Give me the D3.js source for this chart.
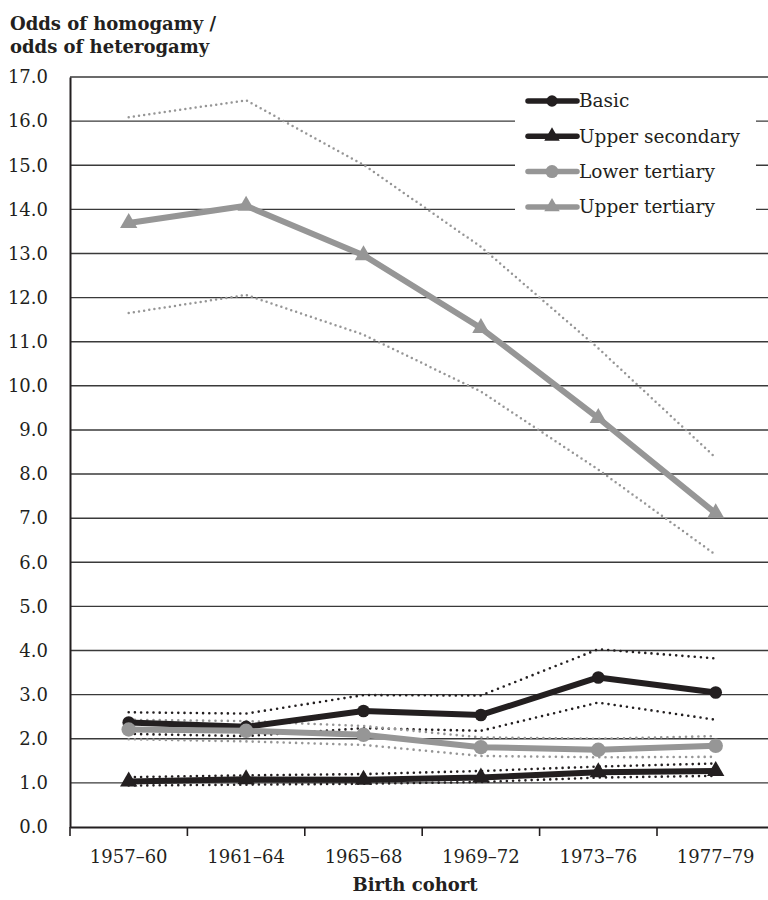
<!DOCTYPE html>
<html>
<head>
<meta charset="utf-8">
<script src="https://cdn.jsdelivr.net/npm/d3@7"></script>
<style>
  body { margin: 0; background: #fff; }
  svg { display: block; }
  text { font-family: "DejaVu Serif", serif; fill: #231f20; }
</style>
</head>
<body>
<svg id="chart" width="768" height="900"></svg>
<script>
  const cohorts = ["1957–60", "1961–64", "1965–68", "1969–72", "1973–76", "1977–79"];
  const yTicks  = d3.range(0, 17.5, 1);

  // point estimates and confidence bounds, per education level
  const basic        = [2.37, 2.27, 2.63, 2.54, 3.39, 3.05];
  const basicHi      = [2.60, 2.57, 2.99, 2.98, 4.03, 3.82];
  const basicLo      = [2.11, 2.06, 2.24, 2.18, 2.82, 2.43];
  const upperSec     = [1.03, 1.08, 1.07, 1.12, 1.24, 1.27];
  const upperSecHi   = [1.13, 1.17, 1.20, 1.27, 1.37, 1.44];
  const upperSecLo   = [0.94, 0.96, 0.98, 1.02, 1.12, 1.16];
  const lowerTer     = [2.21, 2.18, 2.09, 1.81, 1.75, 1.84];
  const lowerTerHi   = [2.43, 2.40, 2.29, 2.03, 2.00, 2.06];
  const lowerTerLo   = [1.99, 1.94, 1.86, 1.61, 1.58, 1.59];
  const upperTer     = [13.69, 14.08, 12.96, 11.31, 9.27, 7.11];
  const upperTerHi   = [16.09, 16.47, 15.01, 13.15, 10.85, 8.37];
  const upperTerLo   = [11.65, 12.06, 11.16, 9.87, 8.10, 6.17];

  const BLACK = "#231f20";
  const GREY  = "#969696";

  const series = [
    { name: "Basic",           values: basic,    hi: basicHi,    lo: basicLo,    color: BLACK, symbol: d3.symbolCircle,   size: 125, dot: [2.6, 6.2] },
    { name: "Upper secondary", values: upperSec, hi: upperSecHi, lo: upperSecLo, color: BLACK, symbol: d3.symbolTriangle, size: 130, dot: [2.6, 6.2] },
    { name: "Lower tertiary",  values: lowerTer, hi: lowerTerHi, lo: lowerTerLo, color: GREY,  symbol: d3.symbolCircle,   size: 165, dot: [2.6, 6.2] },
    { name: "Upper tertiary",  values: upperTer, hi: upperTerHi, lo: upperTerLo, color: GREY,  symbol: d3.symbolTriangle, size: 130, dot: [2.5, 5.2] }
  ];

  const svg = d3.select("#chart");

  const x = d3.scaleBand().domain(cohorts).range([70, 774.4]);
  const y = d3.scaleLinear().domain([0, 17]).range([827, 77]);
  const cx = d => x(d) + x.bandwidth() / 2;

  // gridlines
  svg.append("g")
    .selectAll("line")
    .data(yTicks.filter(t => t > 0))
    .join("line")
    .attr("x1", 70).attr("x2", 774.4)
    .attr("y1", d => y(d)).attr("y2", d => y(d))
    .attr("stroke", "#3a3a3a")
    .attr("stroke-width", 1.4);

  // y axis
  const yAxis = svg.append("g")
    .attr("transform", "translate(70,0)")
    .call(d3.axisLeft(y).tickValues(yTicks).tickFormat(d3.format(".1f")).tickSize(0).tickPadding(22));
  yAxis.select(".domain").attr("stroke", BLACK).attr("stroke-width", 2);
  yAxis.selectAll("text").attr("font-size", 18).attr("font-family", "DejaVu Serif").attr("fill", BLACK);

  // x axis
  const xAxis = svg.append("g")
    .attr("transform", "translate(0,827)")
    .call(d3.axisBottom(x).tickSize(0).tickPadding(23));
  xAxis.select(".domain").attr("stroke", BLACK).attr("stroke-width", 2);
  xAxis.selectAll("text").attr("font-size", 18).attr("font-family", "DejaVu Serif").attr("fill", BLACK);

  // tick marks sit between the categories
  svg.append("g")
    .selectAll("line")
    .data(cohorts)
    .join("line")
    .attr("x1", d => x(d)).attr("x2", d => x(d))
    .attr("y1", 827).attr("y2", 836)
    .attr("stroke", BLACK)
    .attr("stroke-width", 1.6);

  const line = d3.line()
    .x((d, i) => cx(cohorts[i]))
    .y(d => y(d));

  // confidence bounds, dotted
  series.forEach(function (s) {
    [s.hi, s.lo].forEach(function (bound) {
      svg.append("path")
        .datum(bound)
        .attr("d", line)
        .attr("fill", "none")
        .attr("stroke", s.color)
        .attr("stroke-width", s.dot[0])
        .attr("stroke-linecap", "round")
        .attr("stroke-dasharray", "0," + s.dot[1]);
    });
  });

  // main lines with markers
  series.forEach(function (s) {
    svg.append("path")
      .datum(s.values)
      .attr("d", line)
      .attr("fill", "none")
      .attr("stroke", s.color)
      .attr("stroke-width", 6)
      .attr("stroke-linejoin", "round");

    svg.append("g")
      .selectAll("path")
      .data(s.values)
      .join("path")
      .attr("transform", (d, i) => "translate(" + cx(cohorts[i]) + "," + y(d) + ")")
      .attr("d", d3.symbol().type(s.symbol).size(s.size))
      .attr("fill", s.color);
  });

  // legend
  const legend = svg.append("g");
  legend.append("rect")
    .attr("x", 515).attr("y", 84)
    .attr("width", 241).attr("height", 140)
    .attr("fill", "#fff");

  const item = legend.selectAll("g")
    .data(series)
    .join("g")
    .attr("transform", (d, i) => "translate(0," + (101 + i * 35.3) + ")");
  item.append("line")
    .attr("x1", 528).attr("x2", 577)
    .attr("stroke", d => d.color)
    .attr("stroke-width", 5.5)
    .attr("stroke-linecap", "round");
  item.append("path")
    .attr("transform", "translate(552,0)")
    .attr("d", d => d3.symbol().type(d.symbol).size(d.size * 0.8)())
    .attr("fill", d => d.color);
  item.append("text")
    .attr("x", 579)
    .attr("dy", "0.35em")
    .attr("font-size", 18.5)
    .text(d => d.name);

  // titles
  svg.append("text")
    .attr("x", 10).attr("y", 30)
    .attr("font-size", 18)
    .attr("font-weight", "bold")
    .text("Odds of homogamy /");
  svg.append("text")
    .attr("x", 10).attr("y", 53)
    .attr("font-size", 18)
    .attr("font-weight", "bold")
    .text("odds of heterogamy");
  svg.append("text")
    .attr("x", 415).attr("y", 891)
    .attr("text-anchor", "middle")
    .attr("font-size", 18)
    .attr("font-weight", "bold")
    .text("Birth cohort");
</script>
</body>
</html>
